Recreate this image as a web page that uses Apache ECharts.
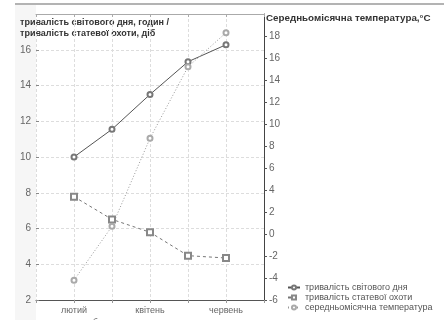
<!DOCTYPE html>
<html>
<head>
<meta charset="utf-8">
<script src="https://cdn.jsdelivr.net/npm/echarts@6/dist/echarts.min.js"></script>
<style>html,body{margin:0;padding:0;background:#fff}#c{width:444px;height:320px}</style>
</head>
<body>
<div id="c"></div>
<script>
var categories = ['лютий', 'березень', 'квітень', 'травень', 'червень'];
var dayLength = [10.0, 11.55, 13.5, 15.33, 16.28];
var estrusDuration = [7.78, 6.51, 5.79, 4.48, 4.35];
var temperature = [-4.2, 0.7, 8.7, 15.2, 18.3];
var seriesNames = ['тривалість світового дня', 'тривалість статевої охоти', 'середньомісячна температура'];
var leftTitle = 'тривалість світового дня, годин /\nтривалість статевої охоти, діб';
var rightTitle = 'Середньомісячна температура,°C';

function pts(arr) { return arr.map(function (v, i) { return [i + 1, v]; }); }

var font = "'Liberation Sans', Arial, sans-serif";
var chart = echarts.init(document.getElementById('c'), null, { renderer: 'canvas' });
chart.setOption({
  backgroundColor: '#fff',
  animation: false,
  textStyle: { fontFamily: font },
  graphic: [
    { type: 'rect', shape: { x: 15, y: 5, width: 21, height: 315 }, style: { fill: '#f6f6f6' }, z: -10 },
    { type: 'line', shape: { x1: 15, y1: 4, x2: 444, y2: 4 }, style: { stroke: '#9a9a9a', lineWidth: 1.5 } },
    { type: 'text', left: 20, top: 17, style: { text: leftTitle, font: 'bold 9px ' + font, fill: '#333', lineHeight: 11 } },
    { type: 'text', left: 266, top: 13, style: { text: rightTitle, font: 'bold 9.8px ' + font, fill: '#333' } }
  ],
  grid: { left: 36, right: 180, top: 14, bottom: 20, outerBoundsMode: 'none', containLabel: false, show: false },
  legend: {
    orient: 'vertical', left: 282, top: 278, itemWidth: 12, itemHeight: 5, itemGap: 1,
    textStyle: { fontSize: 9, color: '#555', lineHeight: 9, fontFamily: font },
    data: seriesNames
  },
  xAxis: [{
    type: 'value', min: 0, max: 6, interval: 1, position: 'bottom',
    axisLine: { onZero: false, lineStyle: { color: '#555' } },
    axisTick: { show: true, length: 3, lineStyle: { color: '#999' } },
    splitLine: { show: true, lineStyle: { color: '#ddd', type: [3, 2] } },
    axisLabel: {
      margin: 5, fontSize: 9, color: '#666', lineHeight: 12, verticalAlign: 'top',
      formatter: function (v) {
        var i = Math.round(v) - 1;
        if (i < 0 || i >= categories.length) return '';
        return i % 2 === 0 ? categories[i] : '\n' + categories[i];
      }
    }
  }, {
    type: 'value', min: 0, max: 6, interval: 1, position: 'top',
    axisLine: { onZero: false, lineStyle: { color: '#aaa' } },
    axisTick: { show: true, inside: true, length: 3, lineStyle: { color: '#aaa' } },
    axisLabel: { show: false }, splitLine: { show: false }
  }],
  yAxis: [{
    type: 'value', min: 2, max: 18, interval: 2, position: 'left',
    axisLine: { show: false, onZero: false },
    axisTick: { show: true, inside: true, length: 3, lineStyle: { color: '#888' } },
    splitLine: { show: true, lineStyle: { color: '#ddd', type: [3, 2] } },
    axisLabel: { fontSize: 10, color: '#666', margin: 5, showMaxLabel: false }
  }, {
    type: 'value', min: -6, max: 20, interval: 2, position: 'right',
    axisLine: { show: true, onZero: false, lineStyle: { color: '#444' } },
    axisTick: { show: true, length: 3, lineStyle: { color: '#555' } },
    splitLine: { show: false },
    axisLabel: { fontSize: 10, color: '#666', margin: 5, showMaxLabel: false }
  }],
  series: [{
    name: seriesNames[0], type: 'line', yAxisIndex: 0, data: pts(dayLength),
    symbol: 'emptyCircle', symbolSize: 5,
    lineStyle: { color: '#555', width: 1 }, itemStyle: { color: '#777', borderColor: '#777', borderWidth: 0.6 }
  }, {
    name: seriesNames[1], type: 'line', yAxisIndex: 0, data: pts(estrusDuration),
    symbol: 'emptyRect', symbolSize: 6,
    lineStyle: { color: '#777', width: 1, type: [3, 3] }, itemStyle: { color: '#888', borderColor: '#888', borderWidth: 0.6 }
  }, {
    name: seriesNames[2], type: 'line', yAxisIndex: 1, data: pts(temperature),
    symbol: 'emptyCircle', symbolSize: 5,
    lineStyle: { color: '#999', width: 1, type: [1, 2] }, itemStyle: { color: '#aaa', borderColor: '#aaa', borderWidth: 0.6 }
  }]
});
</script>
</body>
</html>
